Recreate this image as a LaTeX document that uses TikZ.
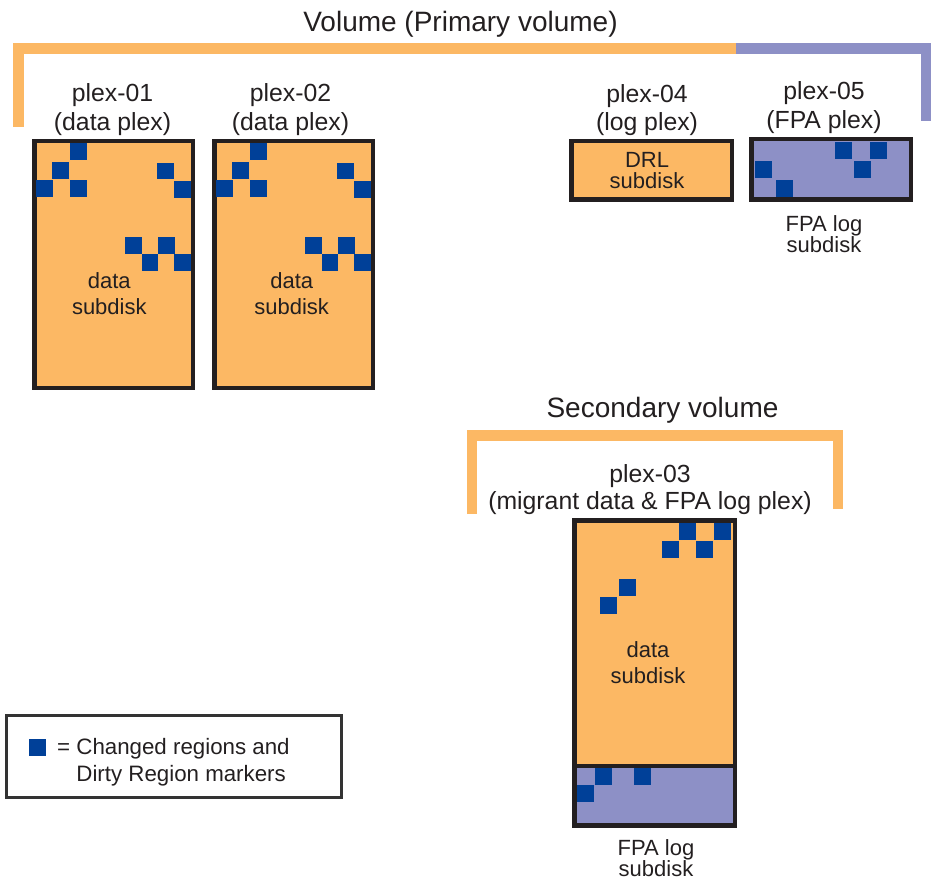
\documentclass[tikz,border=0pt]{standalone}
\usepackage{fontspec}
\setmainfont{Liberation Sans}
\definecolor{plexorange}{RGB}{252,184,100}
\definecolor{plexpurple}{RGB}{141,144,198}
\definecolor{regionblue}{RGB}{0,64,152}
\definecolor{frameink}{RGB}{35,31,32}
\definecolor{textink}{RGB}{35,31,32}

\tikzset{
  plexbox/.style={draw=frameink, line width=4.5pt, inner sep=0pt, outer sep=0pt},
  datafill/.style={plexbox, fill=plexorange},
  logfill/.style={plexbox, fill=plexpurple},
  voltitle/.style={font=\fontsize{28}{33}\selectfont, text=textink, inner sep=0pt, anchor=base},
  plexlabel/.style={font=\fontsize{24.8}{29}\selectfont, align=center, text=textink, inner sep=0pt},
  sublabel/.style={font=\fontsize{22}{26}\selectfont, align=center, text=textink, inner sep=0pt},
  bracket/.style={line width=10.5pt, line cap=butt, line join=miter},
}
% one changed region / dirty region marker, given by its top-left corner
\newcommand\dirtyregion[2]{\fill[regionblue] (#1,#2) rectangle ++(16.7,16.7);}

\begin{document}
\begin{tikzpicture}[x=1pt, y=-1pt]
\useasboundingbox (0,0) rectangle (931,882);

% ---------- primary volume ----------
\node[voltitle] (primary) at (460.5,32) {Volume (Primary volume)};
\draw[bracket, plexorange] (18.5,127) -- (18.5,48.5) -- (736,48.5);
\draw[bracket, plexpurple] (736,48.5) -- (926,48.5) -- (926,121);

% plex labels
\node[plexlabel] (lab1) at (112.5,110) {plex-01\\(data plex)};
\node[plexlabel] (lab2) at (290.5,110) {plex-02\\(data plex)};
\node[plexlabel, font=\fontsize{24.8}{28.5}\selectfont] (lab4) at (647,110) {plex-04\\(log plex)};
\node[plexlabel] (lab5) at (824,107.5) {plex-05\\(FPA plex)};

% data plexes
\node[datafill, minimum width=158.5pt, minimum height=246.5pt] (p1) at (113.5,264.5) {};
\node[datafill, minimum width=158.5pt, minimum height=246.5pt] (p2) at (293.5,264.5) {};

\foreach \dx in {0,180} {
  \begin{scope}[xshift=\dx]
    \dirtyregion{70}{143.3}
    \dirtyregion{52.3}{162}
    \dirtyregion{36}{180}
    \dirtyregion{70}{180}
    \dirtyregion{157}{162.7}
    \dirtyregion{173.8}{181}
    \dirtyregion{125}{237.3}
    \dirtyregion{141.7}{254}
    \dirtyregion{158.3}{237.3}
    \dirtyregion{173.8}{254}
  \end{scope}
}
\node[sublabel] (sd1) at (109.3,294) {data\\subdisk};
\node[sublabel] (sd2) at (291.7,294) {data\\subdisk};

% log plex and FPA plex
\node[datafill, minimum width=160.5pt, minimum height=58.5pt] (p4) at (651.5,170.5) {};
\node[sublabel, font=\fontsize{22}{21}\selectfont] (sd4) at (647,170.5) {DRL\\subdisk};

\node[logfill, minimum width=159.5pt, minimum height=60.5pt] (p5) at (831,169.5) {};
\dirtyregion{835}{142}
\dirtyregion{870}{142}
\dirtyregion{854}{161}
\dirtyregion{755}{161}
\dirtyregion{776}{180}
\node[sublabel, font=\fontsize{22}{21}\selectfont] (sd5) at (824,234.5) {FPA log\\subdisk};

% ---------- secondary volume ----------
\node[voltitle] (secondary) at (662.5,417) {Secondary volume};
\draw[bracket, plexorange] (472,514) -- (472,435.5) -- (838,435.5) -- (838,509);
\node[plexlabel, font=\fontsize{24.8}{27}\selectfont] (lab3) at (650,490) {plex-03\\(migrant data \& FPA log plex)};

\node[datafill, minimum width=160.5pt, minimum height=245.5pt] (p3) at (654.5,643) {};
\node[logfill, minimum width=160.5pt, minimum height=59.5pt] (p3log) at (654.5,795.5) {};
\dirtyregion{679}{523}
\dirtyregion{714}{523}
\dirtyregion{662}{541}
\dirtyregion{696}{541}
\dirtyregion{619}{579}
\dirtyregion{600}{597}
\dirtyregion{595}{768}
\dirtyregion{634}{768}
\dirtyregion{577}{785}
\node[sublabel] (sd3) at (648,663) {data\\subdisk};
\node[sublabel, font=\fontsize{22}{21.5}\selectfont] (sd3log) at (656,858) {FPA log\\subdisk};

% ---------- legend ----------
\node[draw=black!80, line width=3pt, minimum width=335pt, minimum height=82pt, inner sep=0pt] (legend) at (174,756.5) {};
\node[fill=regionblue, minimum size=16.7pt, inner sep=0pt] (key) at (37.5,747.5) {};
\node[sublabel, font=\fontsize{22.3}{27}\selectfont, align=left, anchor=west] (keytext) at (57,762)
  {= Changed regions and\\\phantom{= }Dirty Region markers};
\end{tikzpicture}
\end{document}
